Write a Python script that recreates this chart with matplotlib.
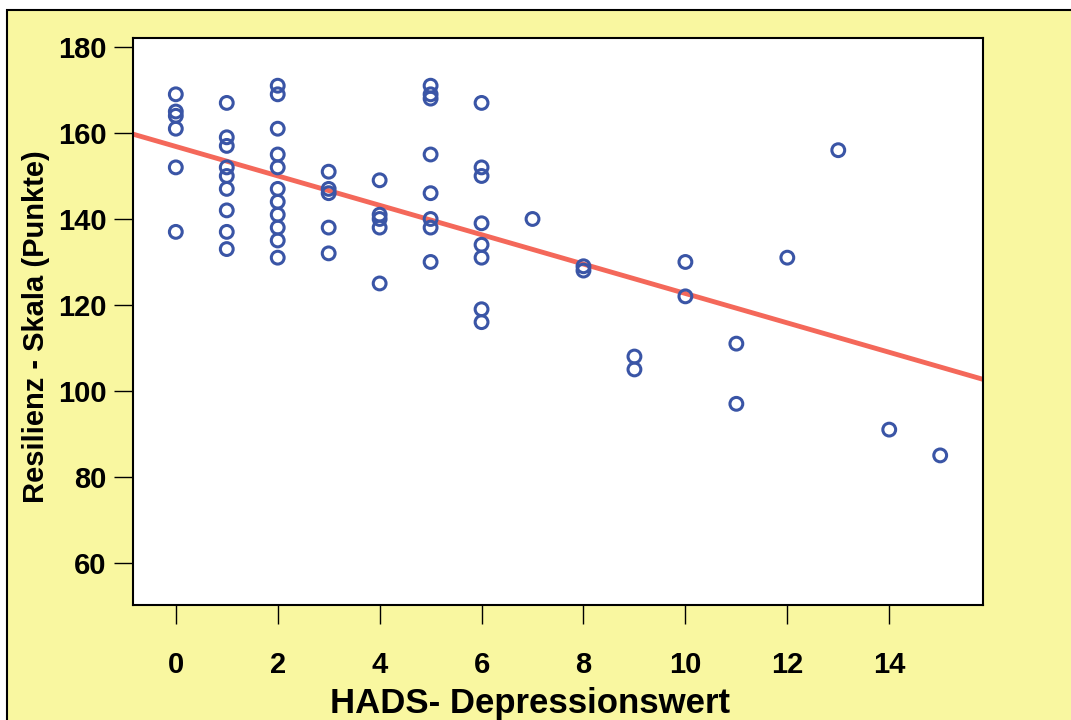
import numpy as np
import matplotlib
matplotlib.use("Agg")
from matplotlib import pyplot as plt
from matplotlib.patches import Rectangle

# HADS depression score (x) and resilience scale score (y)
hads = [0, 0, 0, 0, 0, 0,
        1, 1, 1, 1, 1, 1, 1, 1, 1,
        2, 2, 2, 2, 2, 2, 2, 2, 2, 2, 2,
        3, 3, 3, 3, 3,
        4, 4, 4, 4, 4,
        5, 5, 5, 5, 5, 5, 5, 5,
        6, 6, 6, 6, 6, 6, 6, 6,
        7, 8, 8, 9, 9, 10, 10, 11, 11, 12, 13, 14, 15]
resilienz = [169, 165, 164, 161, 152, 137,
             167, 159, 157, 152, 150, 147, 142, 137, 133,
             171, 169, 161, 155, 152, 147, 144, 141, 138, 135, 131,
             151, 147, 146, 138, 132,
             149, 141, 140, 138, 125,
             171, 169, 168, 155, 146, 140, 138, 130,
             167, 152, 150, 139, 134, 131, 119, 116,
             140, 129, 128, 108, 105, 130, 122, 111, 97, 131, 156, 91, 85]

xticks = [0, 2, 4, 6, 8, 10, 12, 14]
yticks = [60, 80, 100, 120, 140, 160, 180]

bg = "#F9F7A0"
blue = "#3A55A6"
red = "#F4685A"

plt.rcParams['font.family'] = ['Liberation Sans', 'DejaVu Sans']
plt.rcParams['font.weight'] = 'bold'

fig = plt.figure(figsize=(10.71, 7.2), dpi=100)
fig.patch.set_facecolor("white")
fig.patches.append(Rectangle((7 / 1071, -0.1), 1.2, 1.1 - 10 / 720,
                             transform=fig.transFigure, facecolor=bg,
                             edgecolor="black", linewidth=1.5, zorder=-10))

ax = fig.add_axes([133 / 1071, 115 / 720, 850 / 1071, 567 / 720])
ax.set_facecolor("white")

ax.scatter(hads, resilienz, s=85, facecolors="none", edgecolors=blue,
           linewidths=2.2, zorder=3)

# Linear fit line across the plot range
slope, intercept = np.polyfit(hads, resilienz, 1)
xs = np.array([-0.84, 15.84])
ax.plot(xs, intercept + slope * xs, color=red, lw=3.5, zorder=2)

ax.set_xlim(-0.84, 15.84)
ax.set_ylim(50.2, 182.1)
ax.set_xticks(xticks)
ax.set_yticks(yticks)
ax.tick_params(axis="both", direction="out", length=14, width=1,
               labelsize=21)
ax.tick_params(axis="x", pad=19)
ax.tick_params(axis="y", pad=5)
for lab in ax.get_xticklabels() + ax.get_yticklabels():
    lab.set_fontweight("bold")
for sp in ax.spines.values():
    sp.set_linewidth(1.5)

ax.set_xlabel("HADS- Depressionswert", fontsize=25, fontweight="bold")
ax.set_ylabel("Resilienz - Skala (Punkte)", fontsize=21, fontweight="bold")
ax.xaxis.set_label_coords(0.467, -0.145)
ax.yaxis.set_label_coords(-0.098, 0.491)

fig.savefig("out.png", dpi=100, facecolor=fig.get_facecolor())
